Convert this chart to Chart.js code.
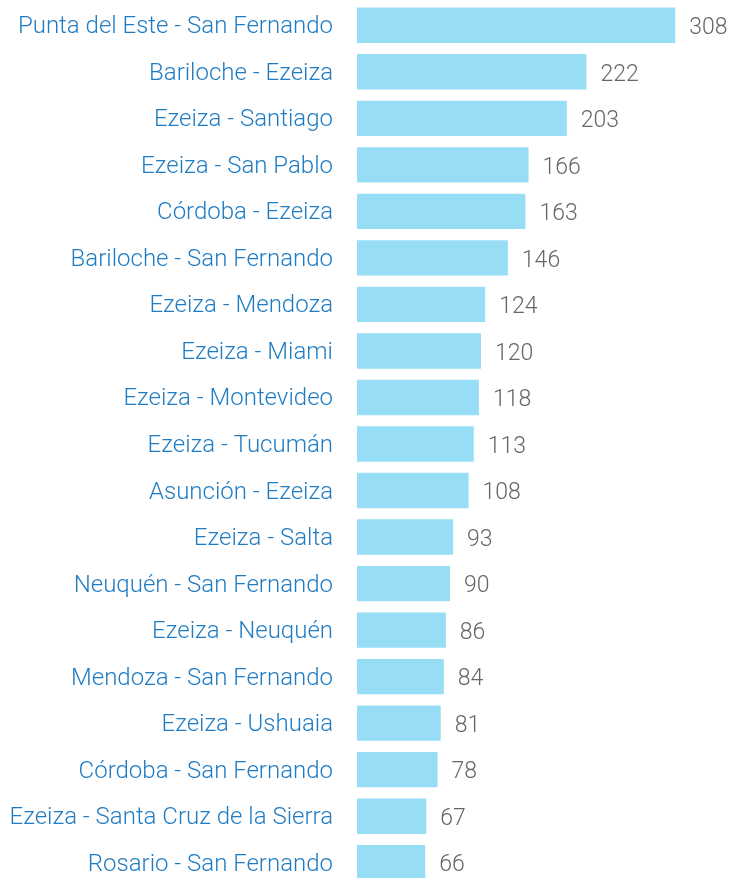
<!DOCTYPE html>
<html>
<head>
<meta charset="utf-8">
<script src="https://cdn.jsdelivr.net/npm/chart.js@4.4.0/dist/chart.umd.min.js"></script>
<style>
  html, body { margin: 0; padding: 0; background: #fff; overflow: hidden; }
  #wrap { width: 733px; height: 886px; position: relative; }
</style>
</head>
<body>
<div id="wrap"><canvas id="routesChart"></canvas></div>
<script>
// routes and their counts, top to bottom
const routes = [
    'Punta del Este - San Fernando',
    'Bariloche - Ezeiza',
    'Ezeiza - Santiago',
    'Ezeiza - San Pablo',
    'Córdoba - Ezeiza',
    'Bariloche - San Fernando',
    'Ezeiza - Mendoza',
    'Ezeiza - Miami',
    'Ezeiza - Montevideo',
    'Ezeiza - Tucumán',
    'Asunción - Ezeiza',
    'Ezeiza - Salta',
    'Neuquén - San Fernando',
    'Ezeiza - Neuquén',
    'Mendoza - San Fernando',
    'Ezeiza - Ushuaia',
    'Córdoba - San Fernando',
    'Ezeiza - Santa Cruz de la Sierra',
    'Rosario - San Fernando'
];
const counts = [308, 222, 203, 166, 163, 146, 124, 120, 118, 113, 108, 93, 90, 86, 84, 81, 78, 67, 66];

const FONT = "'Roboto', sans-serif";

// draws the number next to each bar end
const valueLabels = {
    id: 'valueLabels',
    afterDatasetsDraw(chart) {
        const ctx = chart.ctx;
        const meta = chart.getDatasetMeta(0);
        ctx.save();
        ctx.font = '300 23px ' + FONT;
        ctx.fillStyle = '#666666';
        ctx.textAlign = 'left';
        ctx.textBaseline = 'middle';
        meta.data.forEach((bar, i) => {
            ctx.fillText(String(counts[i]), bar.x + 14, bar.y + 3);
        });
        ctx.restore();
    }
};

const ctx = document.getElementById('routesChart').getContext('2d');
new Chart(ctx, {
    type: 'bar',
    data: {
        labels: routes,
        datasets: [{
            data: counts,
            backgroundColor: '#97ddf6',
            borderWidth: 0,
            barPercentage: 0.76,
            categoryPercentage: 1.0
        }]
    },
    options: {
        indexAxis: 'y',
        responsive: true,
        maintainAspectRatio: false,
        animation: false,
        layout: { padding: { top: 2, bottom: 0, left: 0, right: 4 } },
        plugins: {
            legend: { display: false },
            tooltip: { enabled: false }
        },
        scales: {
            x: {
                min: 0,
                max: 360,
                display: false
            },
            y: {
                afterFit(scale) {
                    scale.width = 357;
                    // the label padding would otherwise push the area in
                    scale.paddingTop = 0;
                    scale.paddingBottom = 0;
                },
                grid: { display: false, drawTicks: false },
                border: { display: false },
                ticks: {
                    color: '#1f7cc3',
                    padding: 24,
                    labelOffset: 2,
                    font: { family: FONT, size: 24, weight: '300' }
                }
            }
        }
    },
    plugins: [valueLabels]
});
</script>
</body>
</html>
